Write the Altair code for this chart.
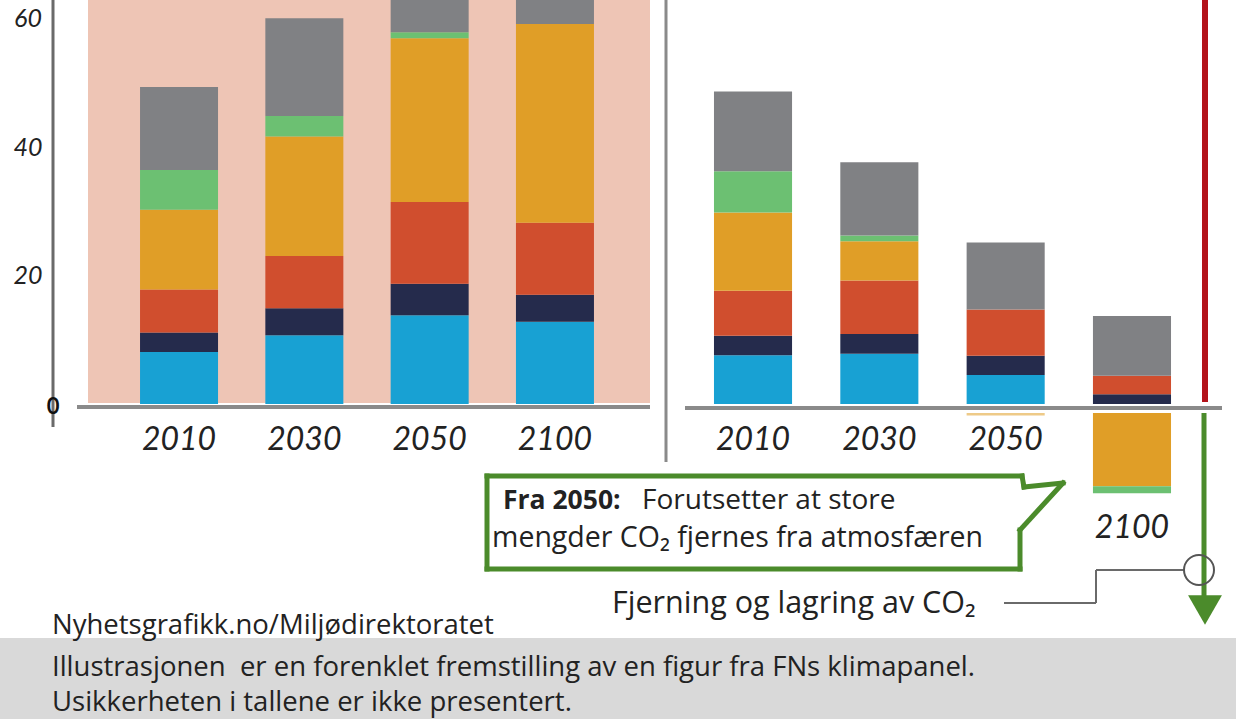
import altair as alt
import pandas as pd

# ---------------- data ----------------
years = ["2010", "2030", "2050", "2100"]
categories = ["Kategori 1", "Kategori 2", "Kategori 3", "Kategori 4", "Kategori 5", "Kategori 6"]
cat_colors = ["#18a1d3", "#252b4c", "#d04e2e", "#e09e27", "#6cc072", "#808184"]

# left panel (reference development), bottom -> top
left_2010 = [8.1, 3.0, 6.7, 12.4, 6.2, 12.9]
left_2030 = [10.7, 4.2, 8.1, 18.6, 3.2, 15.2]
left_2050 = [13.8, 4.9, 12.7, 25.5, 0.9, 12.0]
left_2100 = [12.8, 4.2, 11.2, 30.9, 0.0, 10.0]

# right panel (mitigation), bottom -> top; negatives go below zero
right_2010 = [7.6, 3.0, 7.0, 12.2, 6.4, 12.4]
right_2030 = [7.8, 3.1, 8.3, 6.1, 0.9, 11.4]
right_2050 = [4.5, 3.0, 7.2, -0.4, 0.0, 10.4]
right_2100 = [0.0, 1.5, 2.9, -11.4, -1.1, 9.3]

y_ticks = [20, 40, 60]

txt_callout_bold = "Fra 2050:"
txt_callout_1 = "Forutsetter at store"
txt_callout_2 = "mengder CO\u2082 fjernes fra atmosfæren"
txt_removal = "Fjerning og lagring av CO\u2082"
txt_source = "Nyhetsgrafikk.no/Miljødirektoratet"
txt_note_1 = "Illustrasjonen\u00a0 er en forenklet fremstilling av en figur fra FNs klimapanel."
txt_note_2 = "Usikkerheten i tallene er ikke presentert."

# ---------------- tables ----------------
def build(panel, series):
    rows = []
    for yr, vals in zip(years, series):
        for i, (c, v) in enumerate(zip(categories, vals)):
            if v != 0:
                rows.append({"panel": panel, "year": yr, "category": c, "value": v, "order": i})
    return pd.DataFrame(rows)

df_left = build("left", [left_2010, left_2030, left_2050, left_2100])
df_right = build("right", [right_2010, right_2030, right_2050, right_2100])
df_ticks = pd.DataFrame({"v": y_ticks, "label": [str(t) for t in y_ticks]})
df_years = pd.DataFrame({"year": years})

FONT = "Open Sans"
NUMFONT = "Lato"
TXT = "#222222"
GREEN = "#4b8b2b"
AXIS = "#7a7a7a"

yscale = alt.Scale(domain=[-48.99, 62.83], nice=False, zero=False)
xs_left = alt.Scale(domain=years, range=[116.35, 617.65], paddingInner=0.3775, paddingOuter=0.189)
xs_right = alt.Scale(domain=years, range=[689.85, 1195.15], paddingInner=0.382, paddingOuter=0.191)
cscale = alt.Scale(domain=categories, range=cat_colors)

def rule(x, y, x2=None, y2=None, color=AXIS, w=3, cap="butt"):
    enc = {"x": alt.value(x), "y": alt.value(y)}
    if x2 is not None:
        enc["x2"] = alt.value(x2)
    if y2 is not None:
        enc["y2"] = alt.value(y2)
    return alt.Chart().mark_rule(color=color, strokeWidth=w, strokeCap=cap).encode(**enc)

def text(s, x, y, size=24, weight="normal", style="normal", align="left", color=TXT, font=FONT):
    return alt.Chart().mark_text(
        text=s, font=font, fontSize=size, fontWeight=weight, fontStyle=style,
        align=align, baseline="alphabetic", color=color
    ).encode(x=alt.value(x), y=alt.value(y))

# backgrounds
footer = alt.Chart().mark_rect(color="#d9d9d9").encode(
    x=alt.value(0), x2=alt.value(1236), y=alt.value(638), y2=alt.value(719))
pink = alt.Chart().mark_rect(color="#eec5b5").encode(
    x=alt.value(88), x2=alt.value(650), y=alt.value(0), y2=alt.value(403))

def bars(df, xs, flt, off=0, opacity_2050=False):
    kw = {}
    if off:
        kw = {"yOffset": off, "y2Offset": off}
    enc = dict(
        x=alt.X("year:N", scale=xs, axis=None),
        y=alt.Y("value:Q", stack="zero", scale=yscale, axis=None),
        color=alt.Color("category:N", scale=cscale, legend=None),
        order=alt.Order("order:Q", sort="ascending"),
    )
    if opacity_2050:
        enc["opacity"] = alt.condition(alt.datum.year == "2050", alt.value(0.55), alt.value(1.0))
    return alt.Chart(df).transform_filter(flt).mark_bar(**kw).encode(**enc)

bars_left = bars(df_left, xs_left, alt.datum.value > 0)
bars_right = bars(df_right, xs_right, alt.datum.value > 0)
bars_right_neg = bars(df_right, xs_right, alt.datum.value < 0, off=9, opacity_2050=True)

# year labels
year_style = dict(font=NUMFONT, fontSize=32, fontStyle="italic", color=TXT, baseline="alphabetic", align="center")
years_left = alt.Chart(df_years).mark_text(**year_style).encode(
    x=alt.X("year:N", scale=xs_left, axis=None), y=alt.value(450), text="year:N")
years_right = alt.Chart(df_years).transform_filter(alt.datum.year != "2100").mark_text(**year_style).encode(
    x=alt.X("year:N", scale=xs_right, axis=None), y=alt.value(450), text="year:N")
years_right_2100 = alt.Chart(df_years).transform_filter(alt.datum.year == "2100").mark_text(**year_style).encode(
    x=alt.X("year:N", scale=xs_right, axis=None), y=alt.value(538), text="year:N")

# y tick labels
ticks = alt.Chart(df_ticks).mark_text(
    font=NUMFONT, fontSize=25, fontStyle="italic", color=TXT, align="center", baseline="middle", dy=1
).encode(x=alt.value(28), y=alt.Y("v:Q", scale=yscale, axis=None), text="label:N")
zero_lbl = alt.Chart(pd.DataFrame({"v": [0], "label": ["0"]})).mark_text(
    font=NUMFONT, fontSize=22, fontWeight="bold", color="#111111", align="center", baseline="middle", dy=3
).encode(x=alt.value(53), y=alt.Y("v:Q", scale=yscale, axis=None), text="label:N")

lines = [
    rule(53, 0, y2=427, color="#6a6a6a", w=3),          # left axis
    rule(77, 407, x2=650, color="#8a8a8a", w=4),        # left baseline
    rule(666, 0, y2=462, color="#8a8a8a", w=3),         # divider
    rule(685, 408, x2=1222, color="#8a8a8a", w=4),      # right baseline
    rule(1205, 0, y2=402, color="#b3131b", w=6),        # red line
    rule(1204, 413, y2=604, color=GREEN, w=5),          # green line
]

arrow_head = alt.Chart().mark_point(shape="triangle-down", filled=True, size=1150, color=GREEN, opacity=1).encode(
    x=alt.value(1205), y=alt.value(610))

# callout box
cw = 5
callout = [
    rule(487, 476, x2=1022, y2=476, color=GREEN, w=cw, cap="square"),
    rule(1022, 476, x2=1024, y2=487, color=GREEN, w=cw, cap="square"),
    rule(1024, 487, x2=1063, y2=483, color=GREEN, w=cw, cap="square"),
    rule(1063, 483, x2=1020, y2=530, color=GREEN, w=cw, cap="square"),
    rule(1020, 530, x2=1020, y2=569, color=GREEN, w=cw, cap="square"),
    rule(1020, 569, x2=487, y2=569, color=GREEN, w=cw, cap="square"),
    rule(487, 569, x2=487, y2=476, color=GREEN, w=cw, cap="square"),
]

# connector to the removal arrow
conn_col = "#6a6a6a"
connector = [
    rule(1004, 603, x2=1096, y2=603, color=conn_col, w=2),
    rule(1096, 603, x2=1096, y2=570, color=conn_col, w=2),
    rule(1096, 570, x2=1184, y2=570, color=conn_col, w=2),
]
circle = alt.Chart().mark_point(shape="circle", filled=False, size=900, color="#555555", strokeWidth=2, opacity=1).encode(
    x=alt.value(1199), y=alt.value(570))

texts = [
    text(txt_callout_bold, 503, 509, size=26.5, weight="bold"),
    text(txt_callout_1, 642, 509, size=28),
    text(txt_callout_2, 492, 547, size=28.5),
    text(txt_removal, 612, 613, size=30.5),
    text(txt_source, 52, 634, size=27.5),
    text(txt_note_1, 52, 676, size=27.5),
    text(txt_note_2, 52, 711, size=27.5),
]

chart = alt.layer(
    footer, pink, bars_left, bars_right, bars_right_neg,
    *lines, arrow_head, *callout, *connector, circle,
    years_left, years_right, years_right_2100, ticks, zero_lbl, *texts
).resolve_scale(x="independent").properties(
    width=1242, height=719, padding=0, autosize=alt.AutoSizeParams(type="none"), background="white"
).configure_view(strokeWidth=0)

chart.save("out.html", embed_options={"renderer": "svg", "actions": False})
